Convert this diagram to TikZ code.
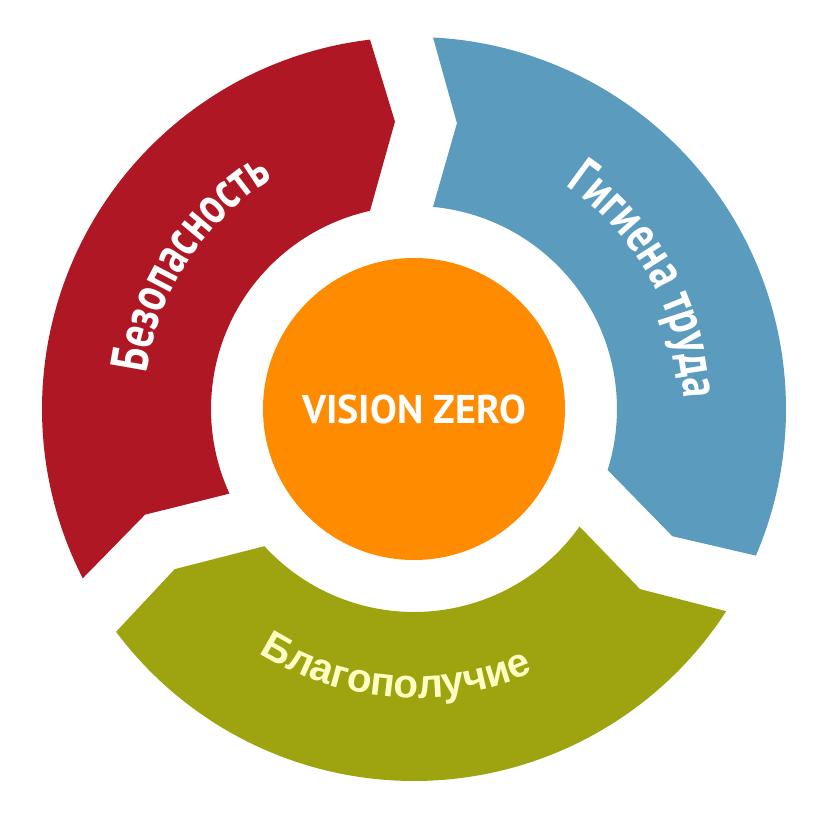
\documentclass[tikz,border=0pt]{standalone}
\usepackage{fontspec}
\usepackage{tikz}
\usetikzlibrary{decorations.text}
\newfontfamily\ringfont[FakeStretch=0.77]{PT Sans}
\newfontfamily\wellfont{Liberation Sans}
\newfontfamily\vzfont{PT Sans}
\definecolor{safered}{RGB}{174,23,35}
\definecolor{hygblue}{RGB}{91,155,189}
\definecolor{wellgreen}{RGB}{157,164,15}
\definecolor{vzorange}{RGB}{255,139,0}
\definecolor{wellyellow}{RGB}{255,255,196}

\begin{document}
\begin{tikzpicture}[
    seg/.style={fill=#1},
    ringtext/.style={decorate, decoration={text along path, text align=center, text color=#1}},
    vz/.style={circle, fill=vzorange, minimum size=3.02cm, inner sep=0, text=white,
      font=\vzfont\bfseries\fontsize{11.4}{12}\selectfont}
  ]
  \useasboundingbox (-4.14,-4.17) rectangle (4.26,4.09);
  % three ring pieces, the same arrow shape turned
  \foreach \rot/\col in {0/safered, -120/hygblue, -240/wellgreen}
    \fill[seg=\col, rotate=\rot] (96.79:3.72) arc[start angle=96.79, end angle=207.07, radius=3.72]
      -- (201.45:2.89) -- (204.63:2.03) arc[start angle=204.63, end angle=102.52, radius=2.03]
      -- (93.79:2.88) -- cycle;
  \node[vz] (zero) at (0,0) {VISION ZERO};
  % labels along the ring
  \path[ringtext=white, decoration={text={|\ringfont\bfseries\fontsize{15}{17}\selectfont|Безопасность}}]
    (187:2.70) arc[start angle=187, end angle=107, radius=2.70];
  \path[ringtext=white, decoration={text={|\ringfont\bfseries\fontsize{15}{17}\selectfont|Гигиена труда}}]
    (69:2.70) arc[start angle=69, end angle=-11, radius=2.70];
  \path[ringtext=wellyellow, decoration={text={|\wellfont\bfseries\fontsize{11.5}{13}\selectfont|Благополучие}}]
    (226:2.89) arc[start angle=226, end angle=306, radius=2.89];
\end{tikzpicture}
\end{document}
